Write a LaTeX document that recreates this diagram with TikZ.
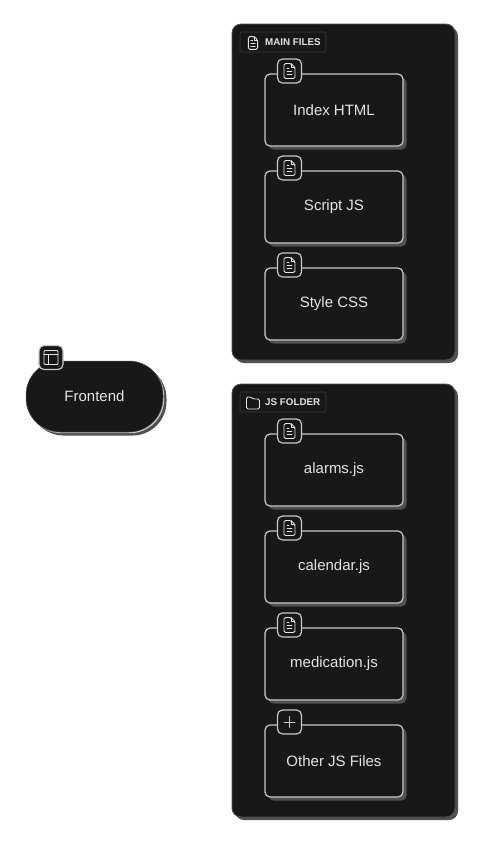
\documentclass[tikz,border=0pt]{standalone}
\usepackage{fontspec}
\setmainfont{Liberation Sans}
\usetikzlibrary{positioning}
\usetikzlibrary{shadows}
\definecolor{panel}{HTML}{181818}
\definecolor{edge}{HTML}{C9C9C9}
\definecolor{shade}{HTML}{505050}
\definecolor{ink}{HTML}{E4E4E4}
\tikzset{
    groupbox/.style={draw=shade, line width=0.8pt, fill=panel, rounded corners=9pt, minimum width=223pt, inner sep=0pt,
        drop shadow={shadow xshift=3pt, shadow yshift=-3pt, opacity=1, fill=shade}},
    itembox/.style={draw=edge, line width=1.2pt, fill=panel, rounded corners=5pt, minimum width=138pt, minimum height=72pt, inner sep=0pt,
        text=ink, font=\fontsize{15}{17}\selectfont,
        drop shadow={shadow xshift=3.5pt, shadow yshift=-3.5pt, opacity=1, fill=shade}},
    pillbox/.style={draw=shade, line width=0.5pt, fill=panel, rounded corners=34pt, minimum width=137pt, minimum height=71pt, inner sep=0pt,
        text=ink, font=\fontsize{15}{17}\selectfont,
        drop shadow={shadow xshift=3.5pt, shadow yshift=-3.5pt, opacity=1, fill=shade},
        drop shadow={shadow xshift=1.2pt, shadow yshift=-1.2pt, opacity=1, fill=edge}},
    badge/.style={draw=edge, line width=1.2pt, fill=panel, rounded corners=5pt, minimum size=24pt, inner sep=0pt},
    tagbox/.style={draw=shade!60!panel, line width=0.6pt, rounded corners=2pt, minimum width=86pt, minimum height=20pt, inner sep=0pt},
    tagtext/.style={text=ink, font=\fontsize{9.8}{11}\bfseries\selectfont, inner sep=0pt, anchor=west},
    iconline/.style={draw=ink, line width=0.9pt, line join=round, line cap=round},
    docicon/.pic={
        \draw[iconline, rounded corners=1.5pt] (-5.5,-7.5) -- (1.5,-7.5) -- (5.5,-3.5) -- (5.5,7.5) -- (-5.5,7.5) -- cycle;
        \draw[iconline] (1.5,-7.5) -- (1.5,-3.5) -- (5.5,-3.5);
        \draw[iconline] (-2.5,-2.5) -- (-0.5,-2.5);
        \draw[iconline] (-2.5,0.5) -- (2.5,0.5);
        \draw[iconline] (-2.5,3.5) -- (2.5,3.5);
    },
    folderpic/.pic={
        \draw[iconline, rounded corners=1.5pt] (-6.5,-6) -- (-2,-6) -- (0,-4) -- (6.5,-4) -- (6.5,6) -- (-6.5,6) -- cycle;
    },
    layoutpic/.pic={
        \draw[iconline, rounded corners=1pt] (-7,-7) rectangle (7,7);
        \draw[iconline] (-7,-3) -- (7,-3);
        \draw[iconline] (-2.5,-3) -- (-2.5,7);
    },
    pluspic/.pic={
        \draw[iconline, draw=edge, line width=0.8pt] (-5.5,0) -- (5.5,0);
        \draw[iconline, draw=edge, line width=0.8pt] (0,-5.5) -- (0,5.5);
    }
}
\begin{document}
\begin{tikzpicture}[x=1pt,y=-1pt]
    \useasboundingbox (0,0) rectangle (480,847);
    % Frontend
    \node[pillbox] (frontend) at (94.5,396.5) {Frontend};
    \node[badge] (frontendbadge) at (51,357.5) {};
    \pic at (frontendbadge) {layoutpic};
    % Main files
    \node[groupbox, minimum height=336pt] (mainfiles) at (343.5,192) {};
    \node[tagbox] (maintag) at (283,42) {};
    \pic[scale=0.85] at (253,43) {docicon};
    \node[tagtext] (maintext) at (265,42.5) {MAIN FILES};
    \node[itembox] (indexhtml) at (334,110) {Index HTML};
    \node[badge] (indexbadge) at (289.5,71) {};
    \pic at (indexbadge) {docicon};
    \node[itembox] (scriptjs) at (334,207) {Script JS};
    \node[badge] (scriptbadge) at (289.5,168) {};
    \pic at (scriptbadge) {docicon};
    \node[itembox] (stylecss) at (334,304) {Style CSS};
    \node[badge] (stylebadge) at (289.5,265) {};
    \pic at (stylebadge) {docicon};
    % JS folder
    \node[groupbox, minimum height=433pt] (jsfolder) at (343.5,600.5) {};
    \node[tagbox] (jstag) at (283,402) {};
    \pic at (253,403) {folderpic};
    \node[tagtext] (jstext) at (265,402.5) {JS FOLDER};
    \node[itembox] (alarms) at (334,470) {alarms.js};
    \node[badge] (alarmsbadge) at (289.5,431) {};
    \pic at (alarmsbadge) {docicon};
    \node[itembox] (calendar) at (334,567) {calendar.js};
    \node[badge] (calendarbadge) at (289.5,528) {};
    \pic at (calendarbadge) {docicon};
    \node[itembox] (medication) at (334,664) {medication.js};
    \node[badge] (medicationbadge) at (289.5,625) {};
    \pic at (medicationbadge) {docicon};
    \node[itembox] (otherjs) at (334,761) {Other JS Files};
    \node[badge] (otherbadge) at (289.5,722) {};
    \pic at (otherbadge) {pluspic};
\end{tikzpicture}
\end{document}
